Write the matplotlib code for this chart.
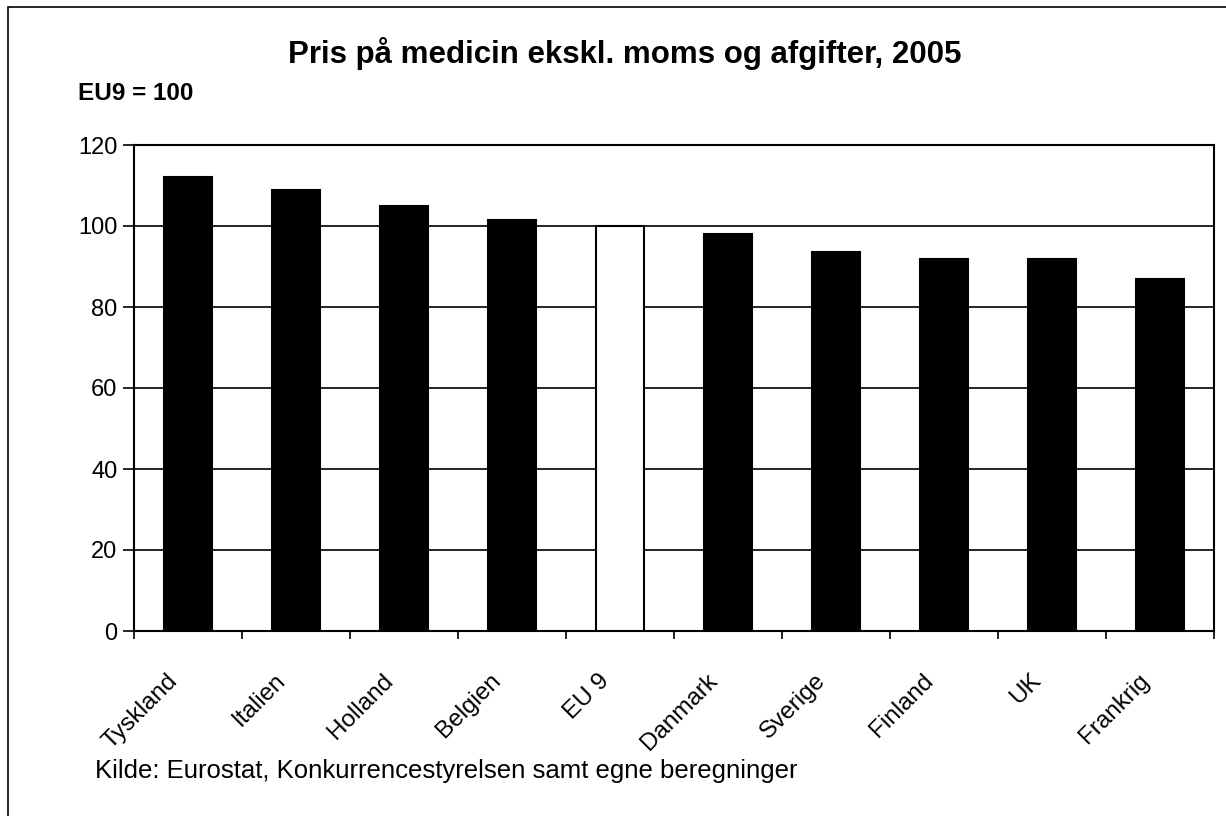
import numpy as np
import matplotlib
matplotlib.use("Agg")
import matplotlib.pyplot as plt
from matplotlib.patches import Rectangle
from matplotlib.transforms import ScaledTranslation

plt.rcParams['font.family'] = ['Liberation Sans', 'DejaVu Sans']

lande = ['Tyskland', 'Italien', 'Holland', 'Belgien', 'EU 9',
         'Danmark', 'Sverige', 'Finland', 'UK', 'Frankrig']
pris = [112, 109, 105, 101.5, 100, 98, 93.7, 91.8, 91.8, 86.8]
farver = ['black'] * 4 + ['white'] + ['black'] * 5

W, H = 1226, 816
fig = plt.figure(figsize=(W / 100, H / 100), dpi=100)
ax = fig.add_axes([134 / W, 1 - 631 / H, (1214 - 134) / W, (631 - 145) / H])

x = np.arange(len(lande))
ax.bar(x, pris, width=0.44, color=farver, edgecolor='black', linewidth=1.5, zorder=3)

ax.set_xlim(-0.5, len(lande) - 0.5)
ax.set_ylim(0, 120)
ax.set_yticks(np.arange(0, 121, 20))
ax.yaxis.grid(True, color='black', linewidth=1.2, zorder=0)
ax.set_xticks(x)
ax.set_xticklabels(lande, rotation=45, ha='right', rotation_mode='anchor', fontsize=17.5)
ax.tick_params(axis='x', length=0, pad=14)
# labels sit a bit lower and to the left of the bar centres
flyt = ScaledTranslation(-0.22, -0.19, fig.dpi_scale_trans)
for lbl in ax.get_xticklabels():
    lbl.set_transform(lbl.get_transform() + flyt)
ax.set_xticks(np.arange(-0.5, len(lande)), minor=True)
ax.tick_params(axis='x', which='minor', length=6, width=1.2, direction='out')
ax.tick_params(axis='y', labelsize=17, length=8, width=1.2, pad=4)
for s in ax.spines.values():
    s.set_linewidth(1.5)

fig.text(625 / W, 1 - 53 / H, 'Pris på medicin ekskl. moms og afgifter, 2005',
         ha='center', va='center', fontsize=22.5, fontweight='bold')
fig.text(78 / W, 1 - 93 / H, 'EU9 = 100', ha='left', va='center',
         fontsize=17.5, fontweight='bold')
fig.text(95 / W, 1 - 771 / H, 'Kilde: Eurostat, Konkurrencestyrelsen samt egne beregninger',
         ha='left', va='center', fontsize=18.5)

fig.patches.append(Rectangle((8 / W, -0.1), 1.2, 1.1 - 7 / H, transform=fig.transFigure,
                             fill=False, edgecolor='black', linewidth=1.2))

fig.savefig('out.png', dpi=100)
